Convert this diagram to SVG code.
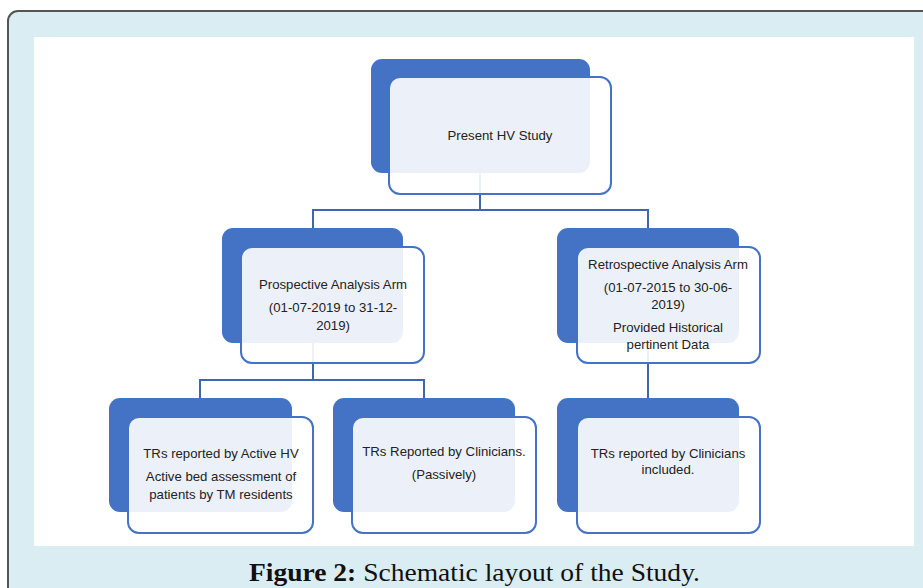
<svg xmlns="http://www.w3.org/2000/svg" width="923" height="588" viewBox="0 0 923 588">
<style>
.back{fill:#4472c4}
.front{fill:#ffffff;fill-opacity:0.9;stroke:#4472c4;stroke-width:2}
.t{font-family:"Liberation Sans",Arial,sans-serif;font-size:13.2px;fill:#222;text-anchor:middle}
.conn{fill:none;stroke:#3f66b0;stroke-width:2}
.cap{font-family:"Liberation Serif","Times New Roman",serif;font-size:25px;fill:#111}
</style>
<rect x="8" y="11" width="940" height="600" rx="10" fill="#d9edf2" stroke="#555" stroke-width="2"/>
<rect x="34" y="37" width="880" height="509" fill="#ffffff"/>
<g id="connectors">
<path class="conn" d="M480 173 V210 M313 210 H648 M313 209 V228 M648 209 V228"/>
<path class="conn" d="M313 343 V380 M200 380 H424 M200 379 V398 M424 379 V398"/>
<path class="conn" d="M648 343 V398"/>
</g>
<g id="n1">
<rect class="back" x="371" y="59" width="219" height="114" rx="11"/>
<rect class="front" x="389" y="77" width="222" height="117" rx="11"/>
<text class="t" x="500" y="140">Present HV Study</text>
</g>
<g id="n2">
<rect class="back" x="222" y="228" width="181" height="115" rx="11"/>
<rect class="front" x="241" y="247" width="183" height="116" rx="11"/>
<text class="t" x="333" y="289">Prospective Analysis Arm</text>
<text class="t" x="333" y="312">(01-07-2019 to 31-12-</text>
<text class="t" x="333" y="330">2019)</text>
</g>
<g id="n3">
<rect class="back" x="557" y="228" width="182" height="115" rx="11"/>
<rect class="front" x="577" y="247" width="183" height="116" rx="11"/>
<text class="t" x="668" y="269">Retrospective Analysis Arm</text>
<text class="t" x="668" y="292">(01-07-2015 to 30-06-</text>
<text class="t" x="668" y="309">2019)</text>
<text class="t" x="668" y="332">Provided Historical</text>
<text class="t" x="668" y="349">pertinent Data</text>
</g>
<g id="n4">
<rect class="back" x="109" y="398" width="183" height="114" rx="11"/>
<rect class="front" x="128" y="417" width="185" height="116" rx="11"/>
<text class="t" x="221" y="458">TRs reported by Active HV</text>
<text class="t" x="221" y="481">Active bed assessment of</text>
<text class="t" x="221" y="499">patients by TM residents</text>
</g>
<g id="n5">
<rect class="back" x="333" y="398" width="182" height="114" rx="11"/>
<rect class="front" x="352" y="417" width="184" height="116" rx="11"/>
<text class="t" x="444" y="456">TRs Reported by Clinicians.</text>
<text class="t" x="444" y="479">(Passively)</text>
</g>
<g id="n6">
<rect class="back" x="557" y="398" width="182" height="114" rx="11"/>
<rect class="front" x="577" y="417" width="183" height="116" rx="11"/>
<text class="t" x="668" y="458">TRs reported by Clinicians</text>
<text class="t" x="668" y="474">included.</text>
</g>
<text class="cap" x="249" y="581" textLength="451" lengthAdjust="spacingAndGlyphs"><tspan font-weight="bold">Figure 2:</tspan> Schematic layout of the Study.</text>
</svg>
